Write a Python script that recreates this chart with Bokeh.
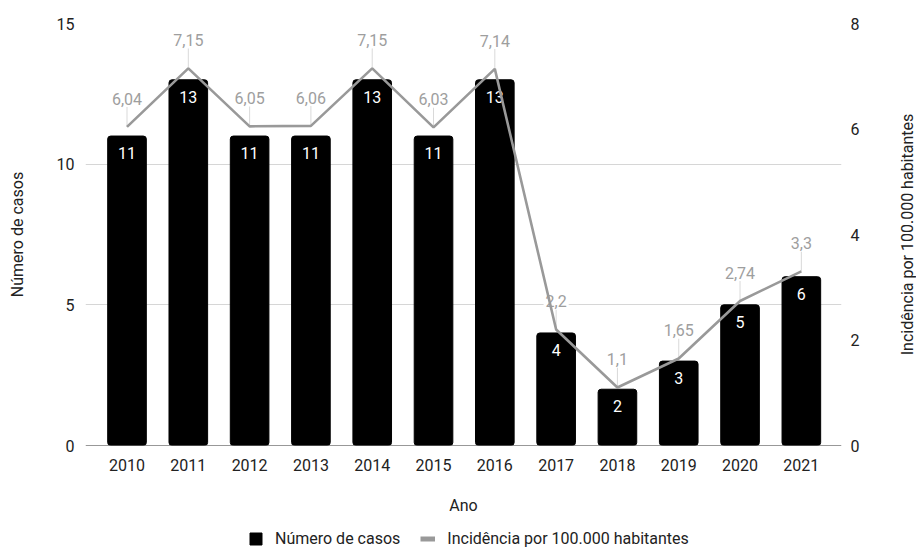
import math
from bokeh.plotting import figure
from bokeh.layouts import column, row
from bokeh.models import (Range1d, LinearAxis, FixedTicker, Span, Legend, LegendItem,
                          ColumnDataSource)
from bokeh.core.properties import value
from bokeh.embed import file_html
from bokeh.resources import INLINE

# Casos e incidência por ano
anos = [2010, 2011, 2012, 2013, 2014, 2015, 2016, 2017, 2018, 2019, 2020, 2021]
casos = [11, 13, 11, 11, 13, 11, 13, 4, 2, 3, 5, 6]
incidencia = [6.04, 7.15, 6.05, 6.06, 7.15, 6.03, 7.14, 2.2, 1.1, 1.65, 2.74, 3.3]
rotulos_incidencia = ["6,04", "7,15", "6,05", "6,06", "7,15", "6,03", "7,14",
                      "2,2", "1,1", "1,65", "2,74", "3,3"]
titulo_eixo_dir = "Incidência por 100.000 habitantes"

FONT = "Roboto"
FS = "16px"
W = 916
W_STRIP = 30
H_MAIN, H_LEG = 520, 30
BORDER_L, BORDER_R, BORDER_T, BORDER_B = 85, 45, 23, 75
INC_MAX = 8
COR_BARRA = "black"
COR_LINHA = "#999999"
COR_TEXTO = "#222222"

p = figure(width=W - W_STRIP, height=H_MAIN, output_backend="svg", toolbar_location=None,
           x_range=Range1d(2009.323, 2021.655), y_range=Range1d(0, 15),
           min_border_left=BORDER_L, min_border_right=BORDER_R,
           min_border_top=BORDER_T, min_border_bottom=BORDER_B)
p.outline_line_color = None
p.background_fill_color = "white"
p.border_fill_color = "white"
p.extra_y_ranges = {"inc": Range1d(0, INC_MAX)}

# eixos
p.xaxis.ticker = FixedTicker(ticks=anos)
p.yaxis.ticker = FixedTicker(ticks=[0, 5, 10, 15])
ax_r = LinearAxis(y_range_name="inc", ticker=FixedTicker(ticks=[0, 2, 4, 6, 8]))
p.add_layout(ax_r, "right")
for ax in p.xaxis + p.yaxis:
    ax.axis_line_color = None
    ax.major_tick_line_color = None
    ax.minor_tick_line_color = None
    ax.major_label_text_font = FONT
    ax.major_label_text_font_size = FS
    ax.major_label_text_color = COR_TEXTO
    ax.axis_label_text_font = FONT
    ax.axis_label_text_font_size = FS
    ax.axis_label_text_font_style = "normal"
    ax.axis_label_text_color = COR_TEXTO
p.xaxis.axis_label = "Ano"
p.xaxis.major_label_standoff = 7
p.xaxis.axis_label_standoff = 22
p.yaxis[0].axis_label = "Número de casos"
p.yaxis[0].major_label_standoff = 5
p.yaxis[0].axis_label_standoff = 27
ax_r.major_label_standoff = 3

p.xgrid.grid_line_color = None
p.ygrid.grid_line_color = "#d6d6d6"
p.ygrid.grid_line_width = 1
p.add_layout(Span(location=0, dimension="width", line_color="#333333", line_width=1.2))

frame_h = H_MAIN - BORDER_T - BORDER_B
px_per_inc = frame_h / INC_MAX

src = ColumnDataSource(dict(ano=anos, casos=casos, inc=incidencia,
                            rot=rotulos_incidencia,
                            casos_txt=[str(c) for c in casos],
                            guia_top=[v + 20 / px_per_inc for v in incidencia]))

p.vbar(x="ano", top="casos", width=0.63, source=src, fill_color=COR_BARRA,
       line_color=COR_BARRA, border_radius=3)
p.text(x="ano", y="casos", text="casos_txt", source=src, y_offset=17,
       text_align="center", text_baseline="middle", text_color="white",
       text_font=value(FONT), text_font_size=FS)

# rótulos de incidência com fundo branco e linhas-guia
p.segment(x0="ano", y0="inc", x1="ano", y1="guia_top", source=src,
          y_range_name="inc", line_color="#d9d9d9", line_width=1)
p.text(x="ano", y="inc", text="rot", source=src, y_range_name="inc", y_offset=-28,
       text_align="center", text_baseline="middle", text_color="#9e9e9e",
       text_font=value(FONT), text_font_size=FS,
       background_fill_color="white", padding=2)
p.line(x="ano", y="inc", source=src, y_range_name="inc",
       line_color=COR_LINHA, line_width=2.6)

# título do eixo direito, lido de baixo para cima
strip = figure(width=W_STRIP, height=H_MAIN, output_backend="svg", toolbar_location=None,
               x_axis_type=None, y_axis_type=None,
               x_range=Range1d(0, 1), y_range=Range1d(0, 1),
               min_border_left=0, min_border_right=0,
               min_border_top=BORDER_T, min_border_bottom=BORDER_B)
strip.outline_line_color = None
strip.xgrid.grid_line_color = None
strip.ygrid.grid_line_color = None
strip.text(x=[0.7], y=[0.5], text=[titulo_eixo_dir], angle=math.pi / 2,
           text_align="center", text_baseline="middle", text_color=COR_TEXTO,
           text_font=value(FONT), text_font_size=FS)

# faixa da legenda, abaixo do gráfico (glifos de referência fora da área visível)
leg = figure(width=W, height=H_LEG, output_backend="svg", toolbar_location=None,
             x_axis_type=None, y_axis_type=None,
             min_border_left=BORDER_L, min_border_right=75,
             min_border_top=0, min_border_bottom=0,
             x_range=Range1d(0, 1), y_range=Range1d(0, 1))
leg.outline_line_color = None
leg.xgrid.grid_line_color = None
leg.ygrid.grid_line_color = None
leg_barra = leg.vbar(x=[-5], top=[-2], bottom=[-3], width=0.5,
                     fill_color=COR_BARRA, line_color=COR_BARRA)
leg_linha = leg.line(x=[-5, -4], y=[-2, -2], line_color=COR_LINHA, line_width=5)
legend = Legend(items=[LegendItem(label="Número de casos", renderers=[leg_barra]),
                       LegendItem(label="Incidência por 100.000 habitantes",
                                  renderers=[leg_linha])],
                orientation="horizontal", location=(163, 2),
                glyph_width=15, glyph_height=15, label_standoff=12, spacing=20,
                padding=0, margin=0, border_line_color=None,
                background_fill_alpha=0,
                label_text_font=FONT, label_text_font_size=FS,
                label_text_color=COR_TEXTO)
leg.add_layout(legend)

layout = column(row(p, strip, spacing=0), leg, spacing=0)
open("out.html", "w").write(file_html(layout, INLINE))
